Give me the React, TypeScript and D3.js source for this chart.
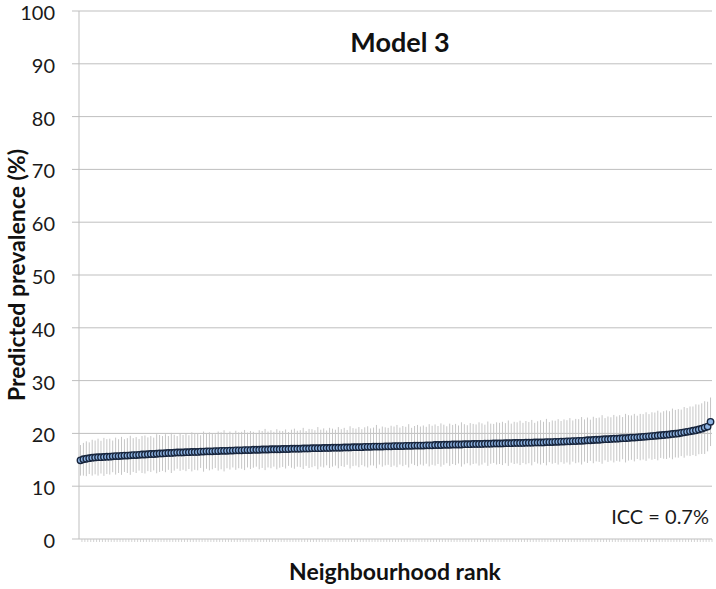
import React, { useEffect, useRef } from "react";
import * as d3 from "d3";

// predicted prevalence (%) per neighbourhood, sorted by rank
const prevalence = [
  14.9, 15.1, 15.2, 15.3, 15.4, 15.45, 15.5, 15.5, 15.55, 15.6, 15.6, 15.65,
  15.7, 15.7, 15.75, 15.8, 15.8, 15.85, 15.9, 15.9, 15.95, 16.0, 16.0, 16.05,
  16.1, 16.1, 16.15, 16.2, 16.2, 16.25, 16.3, 16.3, 16.35, 16.4, 16.4, 16.4,
  16.45, 16.45, 16.5, 16.5, 16.5, 16.55, 16.55, 16.6, 16.6, 16.6, 16.65, 16.65,
  16.7, 16.7, 16.7, 16.75, 16.75, 16.8, 16.8, 16.8, 16.85, 16.85, 16.85, 16.9,
  16.9, 16.9, 16.95, 16.95, 16.95, 17.0, 17.0, 17.0, 17.0, 17.05, 17.05, 17.05,
  17.1, 17.1, 17.1, 17.1, 17.15, 17.15, 17.15, 17.2, 17.2, 17.2, 17.2, 17.25,
  17.25, 17.25, 17.3, 17.3, 17.3, 17.3, 17.35, 17.35, 17.35, 17.4, 17.4, 17.4,
  17.4, 17.45, 17.45, 17.45, 17.5, 17.5, 17.5, 17.5, 17.55, 17.55, 17.55, 17.6,
  17.6, 17.6, 17.6, 17.65, 17.65, 17.65, 17.7, 17.7, 17.7, 17.7, 17.75, 17.75,
  17.75, 17.8, 17.8, 17.8, 17.85, 17.85, 17.85, 17.9, 17.9, 17.9, 17.9, 17.95,
  17.95, 17.95, 18.0, 18.0, 18.0, 18.0, 18.05, 18.05, 18.05, 18.1, 18.1, 18.1,
  18.1, 18.15, 18.15, 18.15, 18.2, 18.2, 18.2, 18.2, 18.25, 18.25, 18.25, 18.3,
  18.3, 18.3, 18.3, 18.35, 18.35, 18.35, 18.4, 18.4, 18.45, 18.45, 18.5, 18.5,
  18.55, 18.55, 18.6, 18.6, 18.65, 18.7, 18.7, 18.75, 18.8, 18.8, 18.85, 18.9,
  18.9, 18.95, 19.0, 19.0, 19.05, 19.1, 19.1, 19.15, 19.2, 19.2, 19.25, 19.3,
  19.35, 19.4, 19.45, 19.5, 19.55, 19.6, 19.65, 19.7, 19.75, 19.8, 19.9, 19.95,
  20.0, 20.1, 20.2, 20.3, 20.4, 20.5, 20.6, 20.75, 20.9, 21.1, 21.3, 22.2
];

// half width of the 95% interval for each neighbourhood
const ciHalf = [
  2.9, 3.1, 3.3, 3.0, 3.4, 3.2, 3.5, 3.1, 3.6, 3.3, 3.4, 3.0,
  3.5, 3.2, 3.6, 3.1, 3.3, 3.7, 3.2, 3.4, 3.0, 3.5, 3.6, 3.2,
  3.4, 3.1, 3.7, 3.5, 3.3, 3.6, 3.2, 3.8, 3.4, 3.1, 3.5, 3.3,
  3.6, 3.2, 3.7, 3.4, 3.5, 3.1, 3.8, 3.3, 3.6, 3.4, 3.2, 3.7,
  3.5, 3.9, 3.3, 3.6, 3.2, 3.7, 3.4, 3.5, 3.8, 3.3, 3.6, 3.4,
  3.2, 3.7, 3.5, 3.9, 3.4, 3.6, 3.3, 3.8, 3.5, 3.4, 3.7, 3.2,
  3.6, 3.8, 3.4, 3.5, 3.9, 3.3, 3.7, 3.6, 3.4, 4.0, 3.5, 3.7,
  3.3, 3.8, 3.6, 3.4, 3.9, 3.5, 3.7, 3.3, 4.0, 3.6, 3.5, 3.8,
  3.4, 3.7, 3.9, 3.5, 3.6, 4.1, 3.4, 3.8, 3.6, 3.5, 3.9, 3.7,
  4.0, 3.5, 3.8, 3.6, 4.1, 3.4, 3.7, 3.9, 3.6, 3.8, 3.5, 4.0,
  3.7, 3.9, 3.6, 4.1, 3.8, 3.5, 4.0, 3.7, 3.9, 3.6, 4.2, 3.8,
  3.6, 4.0, 3.8, 3.7, 4.1, 3.9, 3.6, 4.2, 3.8, 3.7, 4.0, 3.9,
  4.1, 3.8, 4.3, 3.7, 4.0, 3.9, 4.2, 3.8, 4.1, 3.9, 4.3, 3.7,
  4.0, 4.2, 3.9, 4.4, 3.8, 4.1, 4.0, 4.3, 3.9, 4.2, 4.0, 4.4,
  3.9, 4.2, 4.1, 4.5, 4.0, 4.3, 3.9, 4.4, 4.1, 4.2, 4.6, 4.0,
  4.3, 4.1, 4.5, 4.2, 4.4, 4.0, 4.6, 4.3, 4.2, 4.5, 4.1, 4.4,
  4.3, 4.6, 4.2, 4.5, 4.4, 4.7, 4.3, 4.5, 4.6, 4.4, 4.8, 4.5,
  4.6, 4.4, 4.8, 4.5, 4.7, 4.6, 4.9, 4.7, 4.8, 5.0, 4.7, 4.6
];

const yTicks = [0, 10, 20, 30, 40, 50, 60, 70, 80, 90, 100];

const title = "Model 3";
const xTitle = "Neighbourhood rank";
const yTitle = "Predicted prevalence (%)";
const iccLabel = "ICC = 0.7%";

export default function App() {
  const ref = useRef<SVGSVGElement>(null);

  useEffect(() => {
    const width = 716;
    const height = 589;
    const margin = { top: 11, right: 4, bottom: 50, left: 79 };
    const font = "Lato, 'Open Sans', sans-serif";

    const svg = d3.select(ref.current);
    svg.selectAll("*").remove();

    const ranks = prevalence.map((_, i) => i);

    const x = d3
      .scaleBand<number>()
      .domain(ranks)
      .range([margin.left, width - margin.right]);

    const y = d3
      .scaleLinear()
      .domain([0, 100])
      .range([height - margin.bottom, margin.top]);

    // gridlines + y tick labels
    svg
      .append("g")
      .selectAll("line")
      .data(yTicks.filter(t => t > 0))
      .enter()
      .append("line")
      .attr("x1", margin.left - 7)
      .attr("x2", width - margin.right)
      .attr("y1", d => y(d))
      .attr("y2", d => y(d))
      .attr("stroke", "#bfbfbf")
      .attr("stroke-width", 1);

    svg
      .append("g")
      .selectAll("text")
      .data(yTicks)
      .enter()
      .append("text")
      .attr("x", 55)
      .attr("y", d => y(d))
      .attr("dy", "0.45em")
      .attr("text-anchor", "end")
      .style("font-family", font)
      .style("font-size", "20px")
      .attr("fill", "#1a1a1a")
      .text(d => d);

    // y axis line
    svg
      .append("line")
      .attr("x1", margin.left)
      .attr("x2", margin.left)
      .attr("y1", y(100))
      .attr("y2", y(0))
      .attr("stroke", "#bfbfbf");

    // x axis with a tick between every neighbourhood
    const x0 = y(0);
    svg
      .append("line")
      .attr("x1", margin.left - 7)
      .attr("x2", width - margin.right)
      .attr("y1", x0)
      .attr("y2", x0)
      .attr("stroke", "#bfbfbf");

    svg
      .append("g")
      .selectAll("line")
      .data(ranks)
      .enter()
      .append("line")
      .attr("x1", d => (x(d) as number) + x.bandwidth())
      .attr("x2", d => (x(d) as number) + x.bandwidth())
      .attr("y1", x0)
      .attr("y2", x0 + 3)
      .attr("stroke", "#c8c8c8")
      .attr("stroke-width", 0.8);

    // error bars
    svg
      .append("g")
      .selectAll("line")
      .data(ranks)
      .enter()
      .append("line")
      .attr("x1", d => (x(d) as number) + x.bandwidth() / 2)
      .attr("x2", d => (x(d) as number) + x.bandwidth() / 2)
      .attr("y1", d => y(prevalence[d] - ciHalf[d]))
      .attr("y2", d => y(prevalence[d] + ciHalf[d]))
      .attr("stroke", "#c6c6c6")
      .attr("stroke-width", 1);

    // points
    svg
      .append("g")
      .selectAll("circle")
      .data(ranks)
      .enter()
      .append("circle")
      .attr("cx", d => (x(d) as number) + x.bandwidth() / 2)
      .attr("cy", d => y(prevalence[d]))
      .attr("r", 3.2)
      .attr("fill", "#8db3e2")
      .attr("stroke", "#17253d")
      .attr("stroke-width", 1.4);

    // titles
    svg
      .append("text")
      .attr("x", 400)
      .attr("y", 52)
      .attr("text-anchor", "middle")
      .style("font-family", font)
      .style("font-size", "27px")
      .style("font-weight", "bold")
      .attr("fill", "#111")
      .text(title);

    svg
      .append("text")
      .attr("x", 395)
      .attr("y", 580)
      .attr("text-anchor", "middle")
      .style("font-family", font)
      .style("font-size", "23px")
      .style("font-weight", "bold")
      .attr("fill", "#111")
      .text(xTitle);

    svg
      .append("text")
      .attr("transform", `translate(25, ${(margin.top + height - margin.bottom) / 2}) rotate(-90)`)
      .attr("text-anchor", "middle")
      .style("font-family", font)
      .style("font-size", "23px")
      .style("font-weight", "bold")
      .attr("fill", "#111")
      .text(yTitle);

    svg
      .append("text")
      .attr("x", 709)
      .attr("y", 524)
      .attr("text-anchor", "end")
      .style("font-family", font)
      .style("font-size", "20px")
      .attr("fill", "#1a1a1a")
      .text(iccLabel);
  });

  return (
    <svg
      ref={ref}
      width={716}
      height={589}
      style={{ position: "absolute", left: 0, top: 0, background: "#fff" }}
    />
  );
}
